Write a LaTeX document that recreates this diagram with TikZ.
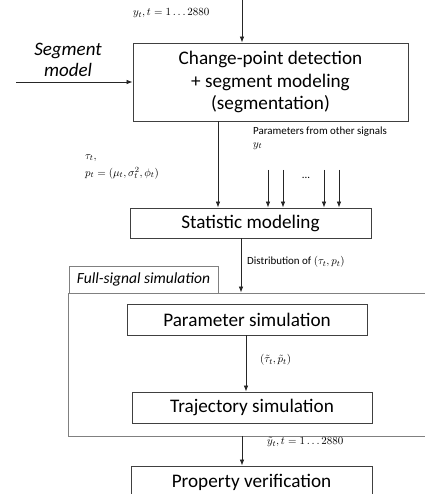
\documentclass[tikz,border=0pt]{standalone}
\usepackage{fontspec}
\setmainfont{Carlito}
\usetikzlibrary{arrows.meta}
\definecolor{boxline}{HTML}{404040}
\definecolor{frameline}{HTML}{808080}
\tikzset{
  box/.style={draw=boxline, line width=0.9pt, inner sep=0pt, align=center,
    font=\fontsize{19.2}{22.5}\selectfont},
  framebox/.style={draw=frameline, line width=0.9pt, inner sep=0pt},
  arr/.style={draw=black!85, line width=0.7pt, -{Latex[length=6pt,width=4.5pt]}},
  small/.style={inner sep=0pt, font=\fontsize{10.95}{13}\selectfont},
  segtext/.style={inner sep=0pt, anchor=base, font=\fontsize{19}{22}\selectfont\itshape},
}
\begin{document}
\begin{tikzpicture}[x=1pt,y=-1pt]
\useasboundingbox (0,0) rectangle (424,494);
\fill[white] (0,0) rectangle (424,494);
% boxes
\node[box, minimum width=275, minimum height=78] (cpd) at (270.5,82)
  {Change-point detection\\+ segment modeling\\(segmentation)};
\node[box, minimum width=241, minimum height=30] (stat) at (250.5,223) {Statistic modeling};
\node[framebox, minimum width=362, minimum height=143] (frame) at (249,364.5) {};
\node[framebox, minimum width=149, minimum height=27] (flab) at (143.5,279.5)
  {\fontsize{15.5}{18}\selectfont\itshape Full-signal simulation};
\node[box, minimum width=240, minimum height=31] (param) at (247,319.5) {Parameter simulation};
\node[box, minimum width=240, minimum height=31] (traj) at (252,407.5) {Trajectory simulation};
\node[box, minimum width=241, minimum height=32] (prop) at (251.5,482) {Property verification};
% texts
\node[segtext] (seg1) at (68,56) {Segment};
\node[segtext] (seg2) at (68,77) {model};
\node[small, anchor=west] (ylab) at (133,13) {$y_t, t = 1 \ldots 2880$};
\node[small, anchor=west] (pfo) at (253,132) {Parameters from other signals};
\node[small, anchor=west] (pfy) at (253,146) {$y_t$};
\node[small, anchor=west] (taul) at (85,158) {$\tau_t,$};
\node[small, anchor=west] (pl) at (85,173) {$p_t = (\mu_t, \sigma_t^2, \phi_t)$};
\node[small] (dots) at (306,178) {...};
\node[small, anchor=west] (dist) at (247,262) {Distribution of $(\tau_t, p_t)$};
\node[small, anchor=west] (tl) at (260,360) {$(\tilde{\tau}_t, \tilde{p}_t)$};
\node[small, anchor=west] (yl) at (267,442) {$\tilde{y}_t, t = 1 \ldots 2880$};
% coordinates
\coordinate (topin) at (242,0);
\coordinate (segin) at (16,82);
\coordinate (c218) at (218,0);
\coordinate (o1) at (268,170);
\coordinate (o2) at (283,170);
\coordinate (o3) at (324,170);
\coordinate (o4) at (339,170);
\coordinate (c241) at (241,0);
\coordinate (c246) at (246,0);
\coordinate (c242) at (242,0);
% connectors
\draw[arr] (topin) -- (cpd.north -| topin);
\draw[arr] (segin) -- (segin -| cpd.west);
\draw[arr] (cpd.south -| c218) -- (stat.north -| c218);
\foreach \o in {o1,o2,o3,o4} \draw[arr] (\o) -- (stat.north -| \o);
\draw[arr] (stat.south -| c241) -- (frame.north -| c241);
\draw[arr] (param.south -| c246) -- (traj.north -| c246);
\draw[arr] (frame.south -| c242) -- (prop.north -| c242);
\end{tikzpicture}
\end{document}
